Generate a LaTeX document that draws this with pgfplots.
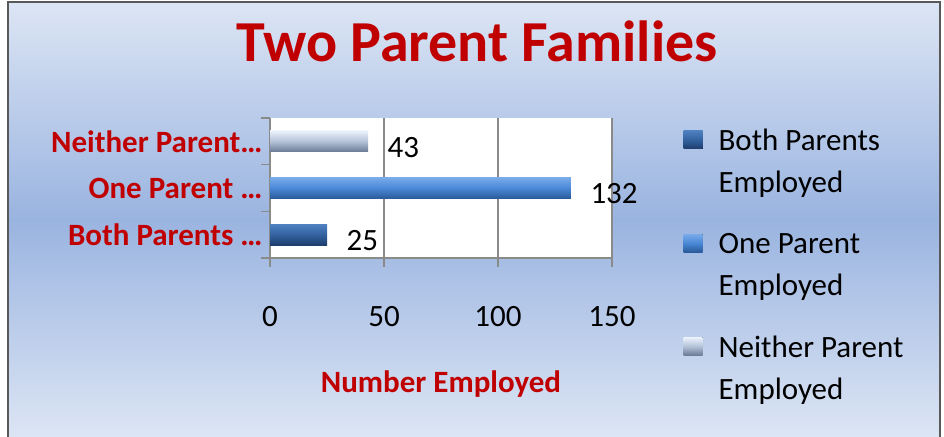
\documentclass[border=0pt]{standalone}
\usepackage{pgfplots}
\pgfplotsset{compat=1.18}
\usepackage{fontspec}
\setmainfont{Carlito}
\definecolor{bgl}{HTML}{DCE5F4}
\definecolor{bgd}{HTML}{9AB4E0}
\definecolor{ttl}{HTML}{C00000}
\definecolor{gridc}{HTML}{8A8A8A}
\definecolor{nT}{HTML}{EAF1FB}
\definecolor{nM}{HTML}{B4C2D8}
\definecolor{nB}{HTML}{6A7A95}
\definecolor{oT}{HTML}{79ABEA}
\definecolor{oM}{HTML}{4A88D6}
\definecolor{oB}{HTML}{2A5A9A}
\definecolor{bT}{HTML}{4F80C0}
\definecolor{bM}{HTML}{33629F}
\definecolor{bB}{HTML}{1E3D6C}
\newcommand{\bigf}{\fontsize{31}{36}\selectfont}
\begin{document}
\begin{tikzpicture}[x=1pt,y=1pt]
\fill[white] (0,0) rectangle (944,436);
\useasboundingbox (0,0) rectangle (944,436);
\fill[top color=bgl,bottom color=bgl,middle color=bgd] (8,-1) rectangle (940,434);
\draw[gray!70!black, line width=2pt] (8,-2) -- (8,434) -- (940,434) -- (940,-2);
\node[anchor=base, font=\fontsize{58}{60}\selectfont\bfseries, text=ttl] at (477,374) {Two Parent Families};
\begin{axis}[
  at={(270pt,178pt)}, anchor=south west,
  scale only axis, width=342pt, height=140pt,
  xmin=0, xmax=150, ymin=-0.5, ymax=2.5,
  xtick={0,50,100,150},
  ytick={0,1,2},
  yticklabels={Both Parents …, One Parent …, Neither Parent…},
  minor ytick={-0.5,0.5,1.5,2.5},
  tick align=outside,
  major tick length=9pt, minor tick length=9pt,
  major y tick style={draw=none},
  minor y tick style={gridc, line width=1.5pt},
  major x tick style={gridc, line width=1.5pt},
  xmajorgrids, major grid style={gridc, line width=1.2pt},
  axis lines*=left, axis line style={gridc, line width=1.5pt, -},
  axis background/.style={fill=white},
  /pgf/number format/assume math mode=true,
  yticklabel style={font=\bigf\bfseries, text=ttl, xshift=5pt},
  xticklabel style={font=\bigf, anchor=base, yshift=-59pt},
  xlabel={Number Employed},
  xlabel style={font=\bigf\bfseries, text=ttl, at={(axis description cs:0.5,-0.964)}, anchor=base},
  nodes near coords, point meta=x,
  every node near coord/.append style={font=\bigf, text=black, xshift=16pt, yshift=-6pt},
  legend style={at={(1.2,0.95)}, anchor=north west, draw=none, fill=none,
    font=\fontsize{31}{42}\selectfont, nodes={align=left}, row sep=35pt, column sep=14pt},
  legend cell align=left,
  legend image code/.code={\fill[#1, draw=none] (0pt,13pt) rectangle (19pt,31pt);},
  clip=false,
]
\addplot[xbar, bar width=21pt, bar shift=0pt, draw=none, top color=bT, bottom color=bB, middle color=bM] coordinates {(25,0)};
\addlegendentry{Both Parents\\Employed}
\addplot[xbar, bar width=21pt, bar shift=0pt, draw=none, top color=oT, bottom color=oB, middle color=oM] coordinates {(132,1)};
\addlegendentry{One Parent\\Employed}
\addplot[xbar, bar width=21pt, bar shift=0pt, draw=none, top color=nT, bottom color=nB, middle color=nM] coordinates {(43,2)};
\addlegendentry{Neither Parent\\Employed}
\end{axis}
\end{tikzpicture}
\end{document}
